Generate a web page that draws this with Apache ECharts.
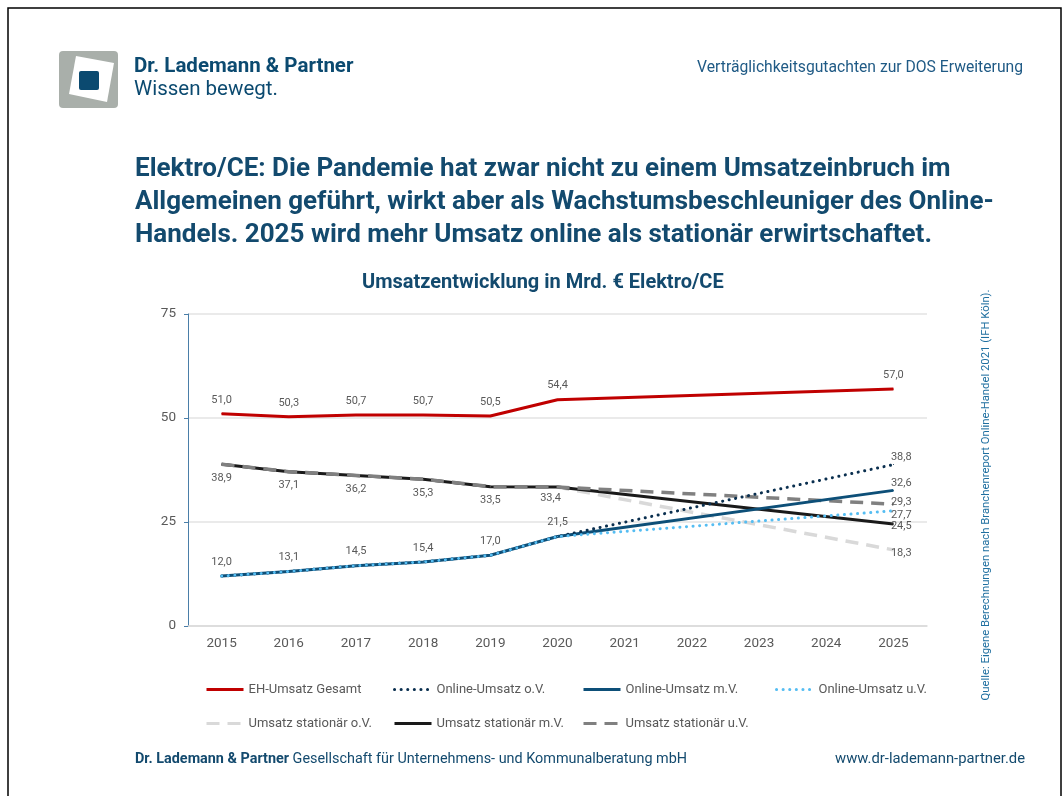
<!DOCTYPE html>
<html>
<head>
<meta charset="utf-8">
<script src="https://cdn.jsdelivr.net/npm/echarts@6/dist/echarts.min.js"></script>
<style>
  html, body { margin: 0; padding: 0; background: #fff; }
  #chart { width: 1064px; height: 796px; }
</style>
</head>
<body>
<div id="chart"></div>
<script>
// Umsatzentwicklung Elektro/CE in Mrd. €
const years = ['2015', '2016', '2017', '2018', '2019', '2020', '2021', '2022', '2023', '2024', '2025'];
const ehGesamt = [51.0, 50.3, 50.7, 50.7, 50.5, 54.4, null, null, null, null, 57.0];
const onlineOV = [12.0, 13.1, 14.5, 15.4, 17.0, 21.5, null, null, null, null, 38.8];
const onlineMV = [12.0, 13.1, 14.5, 15.4, 17.0, 21.5, null, null, null, null, 32.6];
const onlineUV = [12.0, 13.1, 14.5, 15.4, 17.0, 21.5, null, null, null, null, 27.7];
const statOV = [38.9, 37.1, 36.2, 35.3, 33.5, 33.4, null, null, null, null, 18.3];
const statMV = [38.9, 37.1, 36.2, 35.3, 33.5, 33.4, null, null, null, null, 24.5];
const statUV = [38.9, 37.1, 36.2, 35.3, 33.5, 33.4, null, null, null, null, 29.3];

const DARK = '#134a6e';
const GREY = '#595959';
const FONT = 'Roboto, "Noto Sans", sans-serif';

function fmt(v) {
    return v.toFixed(1).replace('.', ',')
}

// labels: map of index -> {pos, off, dist}
function withLabels(values, labels) {
    return values.map((v, i) => {
        const l = labels[i]
        if (!l || v == null) return v
        return {
            value: v,
            label: {
                show: true,
                position: l.pos,
                offset: l.off || [0, 0],
                distance: l.dist == null ? 8 : l.dist,
                formatter: p => fmt(p.value),
                color: GREY,
                fontSize: 11,
                fontFamily: FONT
            }
        }
    })
}
const early = (pos, off) => {
    const o = {}
    for (let i = 0; i < 6; i++) o[i] = { pos: pos, off: off }
    return o
}
const endRight = (dy) => ({ 10: { pos: 'right', off: [-3, dy], dist: 0 } })

let ehLabels = early('top')
ehLabels[10] = { pos: 'top' }
let onMVLabels = early('top')
Object.assign(onMVLabels, endRight(-7))
let stMVLabels = early('bottom')
stMVLabels[5] = { pos: 'bottom', off: [-7, -3] }
Object.assign(stMVLabels, endRight(2))

function line(name, values, color, type, width, z, cap) {
    return {
        name: name,
        type: 'line',
        data: values,
        connectNulls: true,
        symbol: 'circle',
        symbolSize: 1,
        z: z,
        lineStyle: { color: color, width: width, type: type, cap: cap || 'butt' },
        itemStyle: { color: color },
        emphasis: { disabled: true }
    }
}

const series = [
    line('EH-Umsatz Gesamt', withLabels(ehGesamt, ehLabels), '#c00000', 'solid', 3, 8),
    line('Online-Umsatz o.V.', withLabels(onlineOV, endRight(-7)), '#0a2f4f', [0.1, 6.5], 3, 6, 'round'),
    line('Online-Umsatz m.V.', withLabels(onlineMV, onMVLabels), '#0d4f78', 'solid', 3, 5),
    line('Online-Umsatz u.V.', withLabels(onlineUV, endRight(4)), '#55bdf2', [0.1, 6.5], 3, 7, 'round'),
    line('Umsatz stationär o.V.', withLabels(statOV, endRight(3)), '#d9d9d9', [13, 8], 3.5, 2),
    line('Umsatz stationär m.V.', withLabels(statMV, stMVLabels), '#1a1a1a', 'solid', 3, 3),
    line('Umsatz stationär u.V.', withLabels(statUV, endRight(-2)), '#808080', [13, 8], 3.5, 4)
]

const legendPos = [
    [205, 683], [393, 683], [582, 683], [775, 683],
    [205, 717], [393, 717], [582, 717]
]
const legends = series.map((s, i) => ({
    data: [s.name],
    left: legendPos[i][0],
    top: legendPos[i][1],
    padding: 0,
    itemWidth: 37,
    itemHeight: 14,
    selectedMode: false,
    itemStyle: { opacity: 0 },
    lineStyle: { width: 3 },
    textStyle: { color: GREY, fontSize: 13, fontFamily: FONT }
}))

const chart = echarts.init(document.getElementById('chart'))
chart.setOption({
    backgroundColor: '#fff',
    animation: false,
    textStyle: { fontFamily: FONT },
    title: {
        text: 'Umsatzentwicklung in Mrd. € Elektro/CE',
        left: 357,
        top: 268,
        textStyle: { color: DARK, fontSize: 20, fontWeight: 'bold', fontFamily: FONT }
    },
    legend: legends,
    grid: { left: 188, right: 137, top: 314, bottom: 170, containLabel: false },
    xAxis: {
        type: 'category',
        data: years,
        boundaryGap: true,
        axisLine: { lineStyle: { color: '#d9d9d9', width: 1.5 } },
        axisTick: { show: false },
        axisLabel: { color: GREY, fontSize: 13.5, margin: 11, fontFamily: FONT }
    },
    yAxis: {
        type: 'value',
        min: 0,
        max: 75,
        interval: 25,
        axisLine: { show: true, lineStyle: { color: '#4a7ea8', width: 1 } },
        axisTick: { show: true, length: 4, lineStyle: { color: '#4a7ea8' } },
        axisLabel: { color: GREY, fontSize: 13.5, margin: 12, fontFamily: FONT },
        splitLine: { lineStyle: { color: '#e3e3e3', width: 1.5 } }
    },
    series: series,
    graphic: [
        // slide frame
        { type: 'rect', shape: { x: 8, y: 8, width: 1053, height: 820 },
          style: { fill: 'none', stroke: '#000', lineWidth: 1.5 }, silent: true },
        // logo
        { type: 'rect', shape: { x: 59, y: 51, width: 59, height: 57, r: 4 },
          style: { fill: '#a9afaa' } },
        { type: 'polygon', shape: { points: [[76, 56], [114, 63], [107, 102], [69, 94]] },
          style: { fill: '#fff' } },
        { type: 'rect', shape: { x: 79, y: 71, width: 20, height: 19, r: 2 },
          style: { fill: '#0b4a70' } },
        { type: 'text', left: 134, top: 56,
          style: { text: 'Dr. Lademann & Partner', fill: '#0b4a70', fontSize: 20.5, fontWeight: 'bold', fontFamily: FONT } },
        { type: 'text', left: 134, top: 79,
          style: { text: 'Wissen bewegt.', fill: '#0b4a70', fontSize: 20.5, fontFamily: FONT } },
        { type: 'text', right: 41, top: 60,
          style: { text: 'Verträglichkeitsgutachten zur DOS Erweiterung', fill: '#1f5a85', fontSize: 15.7, fontFamily: FONT } },
        // headline
        { type: 'text', left: 135, top: 153,
          style: {
              text: 'Elektro/CE: Die Pandemie hat zwar nicht zu einem Umsatzeinbruch im\nAllgemeinen geführt, wirkt aber als Wachstumsbeschleuniger des Online-\nHandels. 2025 wird mehr Umsatz online als stationär erwirtschaftet.',
              fill: DARK, fontSize: 26, fontWeight: 'bold', lineHeight: 33, fontFamily: FONT
          } },
        // source, vertical
        { type: 'text', x: 986, y: 495, rotation: Math.PI / 2,
          style: {
              text: 'Quelle: Eigene Berechnungen nach Branchenreport Online-Handel 2021 (IFH Köln).',
              fill: '#1f6fa0', fontSize: 11.3, fontFamily: FONT, align: 'center', verticalAlign: 'middle'
          } },
        // footer
        { type: 'text', left: 135, top: 752,
          style: {
              text: '{b|Dr. Lademann & Partner} Gesellschaft für Unternehmens- und Kommunalberatung mbH',
              fill: DARK, fontSize: 14.4, fontFamily: FONT,
              rich: { b: { fontWeight: 'bold', fontSize: 14.4, fill: DARK, fontFamily: FONT } }
          } },
        { type: 'text', right: 39, top: 752,
          style: { text: 'www.dr-lademann-partner.de', fill: DARK, fontSize: 14.8, fontFamily: FONT } }
    ]
})
</script>
</body>
</html>
